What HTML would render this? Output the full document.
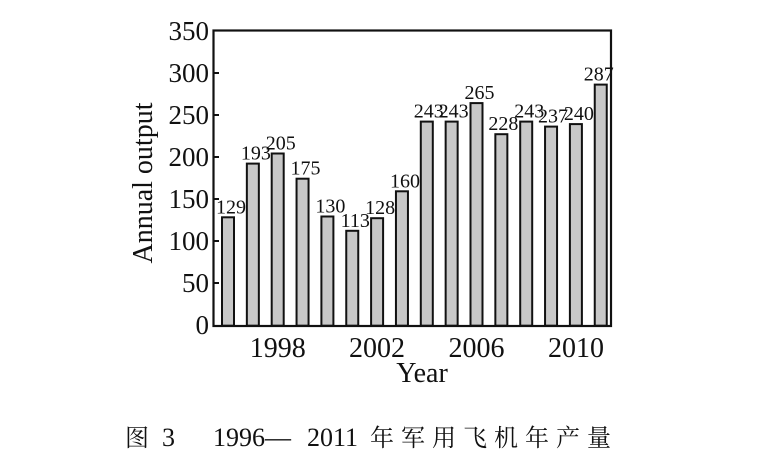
<!DOCTYPE html>
<html><head><meta charset="utf-8"><style>
html,body{margin:0;padding:0;background:#fff;}
svg{display:block;}
</style></head><body>
<svg width="772" height="467" xmlns="http://www.w3.org/2000/svg" font-family="'Liberation Serif', serif">
<g font-size="27" text-anchor="end" fill="#111">
<text x="209" y="40">350</text>
<text x="209" y="82">300</text>
<text x="209" y="124">250</text>
<text x="209" y="166">200</text>
<text x="209" y="208">150</text>
<text x="209" y="250">100</text>
<text x="209" y="292">50</text>
<text x="209" y="334">0</text>
</g>
<text transform="translate(152,183) rotate(-90)" font-size="28" text-anchor="middle" fill="#111">Annual output</text>
<g stroke="#111" stroke-width="2">
<line x1="213" y1="73" x2="219" y2="73"/><line x1="213" y1="115" x2="219" y2="115"/>
<line x1="213" y1="157" x2="219" y2="157"/><line x1="213" y1="199" x2="219" y2="199"/>
<line x1="213" y1="241" x2="219" y2="241"/><line x1="213" y1="283" x2="219" y2="283"/>
<line x1="277.7" y1="326" x2="277.7" y2="320"/><line x1="377" y1="326" x2="377" y2="320"/>
<line x1="476.5" y1="326" x2="476.5" y2="320"/><line x1="576" y1="326" x2="576" y2="320"/>
</g>
<g fill="#c8c8c8" stroke="#111" stroke-width="2">
<rect x="222" y="217.3" width="12" height="108.4"/>
<rect x="246.85" y="163.6" width="12" height="162.1"/>
<rect x="271.7" y="153.5" width="12" height="172.2"/>
<rect x="296.55" y="178.7" width="12" height="147"/>
<rect x="321.4" y="216.5" width="12" height="109.2"/>
<rect x="346.25" y="230.8" width="12" height="94.9"/>
<rect x="371.1" y="218.2" width="12" height="107.5"/>
<rect x="395.95" y="191.3" width="12" height="134.4"/>
<rect x="420.8" y="121.6" width="12" height="204.1"/>
<rect x="445.65" y="121.6" width="12" height="204.1"/>
<rect x="470.5" y="103.1" width="12" height="222.6"/>
<rect x="495.35" y="134.2" width="12" height="191.5"/>
<rect x="520.2" y="121.6" width="12" height="204.1"/>
<rect x="545.05" y="126.6" width="12" height="199.1"/>
<rect x="569.9" y="124.1" width="12" height="201.6"/>
<rect x="594.75" y="84.6" width="12" height="241.1"/>
</g>
<g font-size="20" text-anchor="middle" fill="#111">
<text x="231" y="213.3">129</text>
<text x="255.85" y="159.6">193</text>
<text x="280.7" y="149.5">205</text>
<text x="305.55" y="174.7">175</text>
<text x="330.4" y="212.5">130</text>
<text x="355.25" y="226.8">113</text>
<text x="380.1" y="214.2">128</text>
<text x="404.95" y="187.3">160</text>
<text x="428.8" y="117.6">243</text>
<text x="453.65" y="117.6">243</text>
<text x="479.5" y="99.1">265</text>
<text x="503.35" y="130.2">228</text>
<text x="529.2" y="117.6">243</text>
<text x="553.05" y="122.6">237</text>
<text x="578.9" y="120.1">240</text>
<text x="598.75" y="80.6">287</text>
</g>
<rect x="213.5" y="30.5" width="397.5" height="295.5" fill="none" stroke="#111" stroke-width="2.2"/>
<g font-size="28" text-anchor="middle" fill="#111">
<text x="277.7" y="357">1998</text>
<text x="377" y="357">2002</text>
<text x="476.5" y="357">2006</text>
<text x="576" y="357">2010</text>
<text x="422" y="382" font-size="28">Year</text>
</g>
<g font-size="26" fill="#111" font-family="'Liberation Serif','Noto Serif CJK SC',serif">
<text x="125" y="446" font-size="24">图</text>
<text x="162" y="446">3</text>
<text x="213" y="446">1996</text>
<text x="265" y="446">—</text>
<text x="307" y="446">2011</text>
<text x="370" y="446" font-size="24" letter-spacing="7">年军用飞机年产量</text>
</g>
</svg>
</body></html>
